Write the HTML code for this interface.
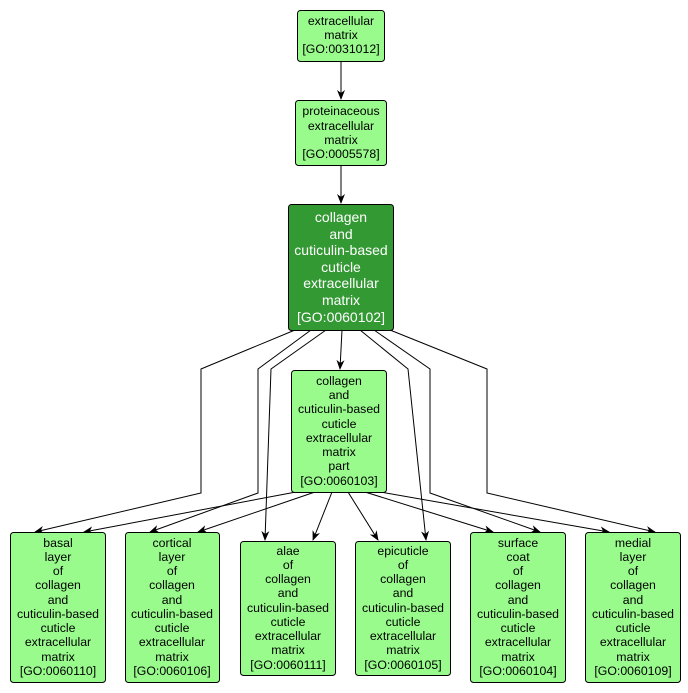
<!DOCTYPE html>
<html><head><meta charset="utf-8"><style>
html,body{margin:0;padding:0;background:#fff;}
svg{display:block;font-family:"Liberation Sans",sans-serif;}
text{font-size:12.3px;text-anchor:middle;fill:#000;}
.w{fill:#fff;font-size:14px;}
.b{fill:#98fb8c;stroke:#000;stroke-width:1;}
.e{fill:none;stroke:#000;stroke-width:1;}
</style></head><body>
<svg width="688" height="693" viewBox="0 0 688 693">
<defs><marker id="a" markerWidth="10" markerHeight="8" refX="9" refY="4" orient="auto" markerUnits="userSpaceOnUse"><path d="M0,0 L10,4 L0,8 L3,4 z" fill="#000"/></marker></defs>
<g class="e" marker-end="url(#a)">
<path d="M341,61 L341,99"/>
<path d="M341,165 L341,203"/>
<path d="M295,330 L201,369 L201,493 L35,532"/>
<path d="M311,330 L258,369 L258,493 L150,532"/>
<path d="M326,330 L271,369 L265,540"/>
<path d="M342,330 L340,369"/>
<path d="M360,330 L408,369 L426,540"/>
<path d="M374,330 L430,369 L430,493 L540,532"/>
<path d="M390,330 L487,369 L487,493 L655,532"/>
<path d="M296,492 L84,532"/>
<path d="M315,492 L198,532"/>
<path d="M332,492 L313,540"/>
<path d="M348,492 L378,540"/>
<path d="M365,492 L493,532"/>
<path d="M380,492 L609,532"/>
</g>
<rect class="b" x="297.5" y="10.5" width="87" height="51" rx="3"/>
<text x="341" y="25">extracellular</text><text x="341" y="39">matrix</text><text x="341" y="53">[GO:0031012]</text>
<rect class="b" x="295.5" y="100.5" width="91" height="65" rx="3"/>
<text x="341" y="115">proteinaceous</text><text x="341" y="130">extracellular</text><text x="341" y="144">matrix</text><text x="341" y="158">[GO:0005578]</text>
<rect x="288.5" y="204.5" width="105" height="126" rx="3" fill="#339933" stroke="#000"/>
<text class="w" x="341" y="222">collagen</text><text class="w" x="341" y="239">and</text><text class="w" x="341" y="255">cuticulin-based</text><text class="w" x="341" y="272">cuticle</text><text class="w" x="341" y="288">extracellular</text><text class="w" x="341" y="305">matrix</text><text class="w" x="341" y="322">[GO:0060102]</text>
<rect class="b" x="291.5" y="370.5" width="95" height="122" rx="3"/>
<text x="339" y="385">collagen</text><text x="339" y="399">and</text><text x="339" y="413">cuticulin-based</text><text x="339" y="428">cuticle</text><text x="339" y="442">extracellular</text><text x="339" y="456">matrix</text><text x="339" y="470">part</text><text x="339" y="485">[GO:0060103]</text>
<rect class="b" x="10.5" y="532.5" width="95" height="150" rx="3"/>
<text x="58" y="547">basal</text><text x="58" y="561">layer</text><text x="58" y="575">of</text><text x="58" y="589">collagen</text><text x="58" y="604">and</text><text x="58" y="618">cuticulin-based</text><text x="58" y="632">cuticle</text><text x="58" y="646">extracellular</text><text x="58" y="661">matrix</text><text x="58" y="675">[GO:0060110]</text>
<rect class="b" x="125.5" y="532.5" width="94" height="150" rx="3"/>
<text x="172" y="547">cortical</text><text x="172" y="561">layer</text><text x="172" y="575">of</text><text x="172" y="589">collagen</text><text x="172" y="604">and</text><text x="172" y="618">cuticulin-based</text><text x="172" y="632">cuticle</text><text x="172" y="646">extracellular</text><text x="172" y="661">matrix</text><text x="172" y="675">[GO:0060106]</text>
<rect class="b" x="240.5" y="541.5" width="95" height="134" rx="3"/>
<text x="288" y="555">alae</text><text x="288" y="569">of</text><text x="288" y="583">collagen</text><text x="288" y="597">and</text><text x="288" y="612">cuticulin-based</text><text x="288" y="626">cuticle</text><text x="288" y="640">extracellular</text><text x="288" y="654">matrix</text><text x="288" y="669">[GO:0060111]</text>
<rect class="b" x="355.5" y="541.5" width="95" height="134" rx="3"/>
<text x="403" y="555">epicuticle</text><text x="403" y="569">of</text><text x="403" y="583">collagen</text><text x="403" y="597">and</text><text x="403" y="612">cuticulin-based</text><text x="403" y="626">cuticle</text><text x="403" y="640">extracellular</text><text x="403" y="654">matrix</text><text x="403" y="669">[GO:0060105]</text>
<rect class="b" x="470.5" y="532.5" width="95" height="150" rx="3"/>
<text x="518" y="547">surface</text><text x="518" y="561">coat</text><text x="518" y="575">of</text><text x="518" y="589">collagen</text><text x="518" y="604">and</text><text x="518" y="618">cuticulin-based</text><text x="518" y="632">cuticle</text><text x="518" y="646">extracellular</text><text x="518" y="661">matrix</text><text x="518" y="675">[GO:0060104]</text>
<rect class="b" x="585.5" y="532.5" width="95" height="150" rx="3"/>
<text x="633" y="547">medial</text><text x="633" y="561">layer</text><text x="633" y="575">of</text><text x="633" y="589">collagen</text><text x="633" y="604">and</text><text x="633" y="618">cuticulin-based</text><text x="633" y="632">cuticle</text><text x="633" y="646">extracellular</text><text x="633" y="661">matrix</text><text x="633" y="675">[GO:0060109]</text>
</svg>
</body></html>
